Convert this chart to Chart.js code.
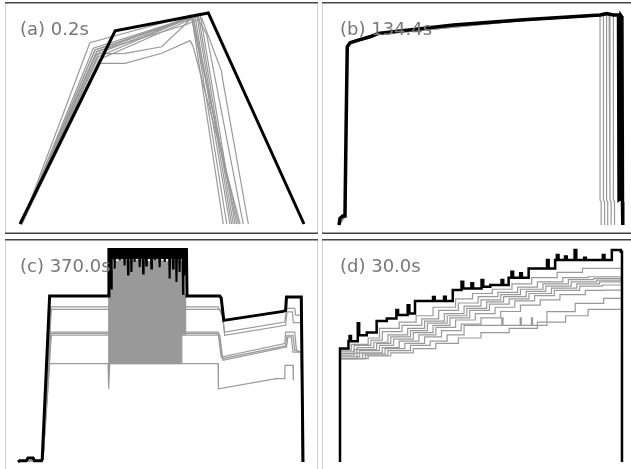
<!DOCTYPE html>
<html>
<head>
<meta charset="utf-8">
<script src="https://cdn.jsdelivr.net/npm/chart.js@4"></script>
<style>
html, body { margin: 0; padding: 0; background: #fff; overflow: hidden; width: 631px; height: 469px; }
canvas { position: absolute; }
</style>
</head>
<body>
<canvas id="pa" width="313" height="232" style="left:5px;top:2px"></canvas>
<canvas id="pb" width="309" height="232" style="left:322px;top:2px"></canvas>
<canvas id="pc" width="313" height="230" style="left:5px;top:239px"></canvas>
<canvas id="pd" width="309" height="230" style="left:322px;top:239px"></canvas>
<script>
// x = percent of run time, y = percent of peak value
var panelLabels = ["(a) 0.2s", "(b) 134.4s", "(c) 370.0s", "(d) 30.0s"];

// (a)
var aBlackX = [0, 33.5, 66.3, 100];
var aBlackY = [0, 91.6, 100, 0];
var aGrayX = [
  [0.6, 24.6, 60.4, 71.6],
  [0.6, 25.8, 61.0, 72.8],
  [0.6, 26.4, 61.6, 73.9],
  [0.6, 27.0, 62.2, 74.5],
  [0.6, 27.0, 62.8, 75.1],
  [0.6, 27.6, 63.4, 75.7],
  [0.6, 27.9, 61.0, 76.3],
  [0.6, 28.2, 37.0, 49.9, 59.9, 61.0, 77.5],
  [0.6, 27.6, 37.0, 49.9, 60.4, 76.9],
  [0.6, 27.0, 58.1, 64.0, 71.0, 71.4, 80.4],
  [0.6, 26.4, 62.2, 65.7, 78.6]
];
var aGrayY = [
  [0, 85.9, 99.1, 0],
  [0, 83.3, 98.3, 0],
  [0, 82.5, 98.6, 0],
  [0, 81.7, 99.5, 0],
  [0, 80.6, 99.1, 0],
  [0, 79.3, 99.8, 0],
  [0, 78.0, 97.5, 0],
  [0, 76.1, 76.1, 80.9, 86.9, 84.0, 0],
  [0, 80.6, 80.9, 84.0, 97.5, 0],
  [0, 81.7, 94.3, 97.5, 72.2, 68.2, 0],
  [0, 82.5, 98.3, 90, 0]
];

// (b)
var bBlackX = [0, 0.35, 1.3, 2.1, 2.5, 2.9, 3.9, 6.2, 10.9, 13.8, 40.3, 63.7, 91.9, 94.2, 96.6, 98.4, 98.6, 99.2, 99.3, 99.6, 99.8, 99.9];
var bBlackY = [0, 3.1, 4.2, 4.2, 46.4, 84.1, 86.0, 87.0, 88.8, 90.4, 94.3, 96.7, 99.1, 99.8, 99.1, 99.1, 12.0, 12.5, 98.6, 98.0, 11.0, 0];
var bGrayX = [
  [0, 2.0, 2.4, 2.8, 4.0, 13.8, 63.7, 91.6, 91.9, 91.9, 92.3, 92.3],
  [0, 2.0, 2.4, 2.8, 4.0, 13.8, 63.7, 92.8, 93.1, 93.1, 93.5, 93.5],
  [0, 2.0, 2.4, 2.8, 4.0, 13.8, 63.7, 93.9, 94.2, 94.2, 94.6, 94.6],
  [0, 2.0, 2.4, 2.8, 4.0, 13.8, 63.7, 95.1, 95.4, 95.4, 95.8, 95.8],
  [0, 2.0, 2.4, 2.8, 4.0, 13.8, 63.7, 96.3, 96.6, 96.6, 97.0, 97.0]
];
var bGrayY = [
  [0, 4.0, 46, 83.6, 85.6, 90.0, 96.4, 98.8, 98.5, 11.8, 11.0, 0],
  [0, 3.8, 45, 83.4, 85.5, 89.9, 96.3, 98.9, 98.6, 11.8, 11.0, 0],
  [0, 3.9, 46, 83.8, 85.7, 90.1, 96.5, 99.0, 98.7, 11.8, 11.0, 0],
  [0, 4.1, 47, 83.5, 85.4, 89.8, 96.4, 99.0, 98.8, 11.8, 11.0, 0],
  [0, 4.0, 46, 83.7, 85.6, 90.0, 96.5, 99.1, 98.9, 11.8, 11.0, 0]
];

// (c)
var cBlackX = [0, 0.6, 2.9, 3.5, 5.3, 5.8, 8.2, 8.5, 11.1, 31.6, 31.9, 59.1, 59.3, 70.8, 71.3, 72.2, 93.0, 93.9, 94.2, 99.4, 100];
var cBlackY = [0, 0.6, 0.6, 1.9, 1.9, 0.6, 0.6, 1.3, 77.9, 77.9, 99.8, 99.8, 77.9, 77.9, 77.0, 66.5, 70.7, 71.2, 77.5, 77.5, 0];
var cTopX = [31.9, 59.1];
var cTopHi = [99.8, 99.8];
var cTopLo = [95.5, 95.5];
var cSpikeX = [32.5, 32.7, 32.9, 33.7, 33.9, 34.1, 35.5, 35.7, 35.9, 37.2, 37.4, 37.6, 38.4, 38.6, 38.8,
  39.6, 39.8, 40.0, 40.7, 40.9, 41.1, 42.5, 42.7, 42.9, 43.7, 43.9, 44.1, 44.8, 45.0, 45.2,
  46.6, 46.8, 47.0, 47.8, 48.0, 48.2, 49.5, 49.7, 49.9, 51.3, 51.5, 51.7, 53.0, 53.2, 53.4,
  54.2, 54.4, 54.6, 55.4, 55.6, 55.8, 56.5, 56.7, 56.9, 57.7, 57.9, 58.1, 58.3, 58.5, 58.7];
var cSpikeY = [99, 81.4, 99, 99, 90.8, 99, 99, 94.7, 99, 99, 92.3, 99, 99, 88, 99,
  99, 89.2, 99, 99, 93.9, 99, 99, 91.5, 99, 99, 88.5, 99, 99, 92.3, 99,
  99, 90.8, 99, 99, 94.7, 99, 99, 91.5, 99, 99, 93.9, 99, 99, 86.1, 99,
  99, 90.8, 99, 99, 84.5, 99, 99, 89.2, 99, 99, 79, 99, 99, 87.6, 99];
var cBandX = [31.6, 34, 37, 40, 43, 46, 49, 52, 55, 57.3, 57.5, 59.1];
var cBandTop = [80, 94, 95, 94, 95, 94, 95, 94, 95, 94, 80, 78];
var cBandBottom = [46.2, 46.2, 46.2, 46.2, 46.2, 46.2, 46.2, 46.2, 46.2, 46.2, 60, 60];
var cGrayX = [
  [0, 8.2, 8.8, 11.5, 59.1, 70.2, 71.7, 72.5, 93.6, 94.2, 97.1, 97.4, 99.4, 99.8],
  [0, 8.2, 8.8, 11.7, 59.1, 70.8, 71.9, 72.5, 93.9, 94.4, 96.3, 96.6, 99.4, 99.8],
  [0, 8.2, 8.8, 11.3, 59.1, 70.2, 71.3, 93.6, 93.9, 97.1, 97.7, 99.4, 99.8],
  [0, 8.2, 8.8, 11.5, 59.1, 70.5, 71.7, 93.9, 94.4, 96.5, 97.1, 99.4, 99.8],
  [0, 8.2, 8.8, 11.7, 59.1, 70.8, 71.9, 94.2, 94.7, 95.9, 96.5, 99.4, 99.8],
  [0, 8.2, 8.8, 11.1, 31.6, 31.8, 32.2, 57.3, 70.2, 70.3, 90.6, 93.6, 93.7, 96.5, 96.6]
];
var cGrayY = [
  [0.6, 0.6, 1.5, 72.8, 72.8, 72.8, 68.9, 61.0, 65.7, 72.1, 72.1, 69.0, 69.0, 0],
  [0.6, 0.6, 1.5, 71.7, 71.7, 71.7, 67.5, 59.5, 64.2, 70.5, 70.5, 65.4, 65.4, 0],
  [0.6, 0.6, 1.5, 61.0, 61.0, 61.0, 49.3, 55.6, 61.0, 61.0, 52.4, 51.6, 0],
  [0.6, 0.6, 1.5, 60.3, 60.3, 60.3, 48.5, 54.5, 59.5, 59.5, 52.4, 51.6, 0],
  [0.6, 0.6, 1.5, 59.5, 59.5, 59.5, 47.7, 54.0, 58.7, 58.7, 51.6, 51.6, 0],
  [0.6, 0.6, 1.5, 46.2, 46.2, 34.4, 46.2, 46.2, 46.2, 34.4, 39.1, 39.1, 45.4, 45.4, 38.3]
];

// (d) stepped
var dBlackX = [0, 0, 3.0, 3.4, 3.9, 6.3, 6.8, 9.5, 13.0, 16.6, 20.0, 20.6, 24.0, 24.6, 26.6, 33.0, 33.6, 36.9, 37.5, 40.0,
  43.1, 43.7, 46.6, 47.2, 50.2, 50.8, 53.3, 57.3, 57.9, 59.8, 60.8, 61.4, 63.9, 64.5, 66.9, 73.4, 74.0, 76.3, 76.9, 77.5,
  79.8, 80.4, 83.2, 83.8, 86.6, 87.2, 93.2, 93.8, 96.4, 99.6, 100];
var dBlackY = [0, 53.5, 57.0, 59.5, 57.0, 65.4, 59.8, 61.1, 66.5, 67.7, 71.7, 69.3, 74.0, 70.1, 75.9, 77.8, 75.9, 78.0, 75.9, 81.1,
  85.0, 81.9, 84.3, 81.9, 85.8, 82.7, 83.5, 85.8, 83.5, 86.9, 89.8, 86.9, 89.0, 86.9, 91.3, 95.3, 91.3, 95.3, 97.6, 95.3,
  96.9, 95.3, 100, 95.3, 96.4, 95.3, 97.6, 95.3, 100, 99.2, 0];
var dGrayX = [
  [0, 0, 4, 10, 14, 21, 27, 33, 41, 47, 54, 61, 68, 77, 86, 100],
  [0, 0, 5, 11, 15, 22, 29, 35, 42, 49, 56, 63, 70, 79, 88, 100],
  [0, 0, 6, 12, 17, 24, 30, 37, 44, 50, 57, 64, 72, 81, 90, 100],
  [0, 0, 5, 13, 18, 25, 31, 38, 45, 52, 58, 66, 73, 82, 91, 100],
  [0, 0, 7, 14, 19, 26, 33, 39, 46, 53, 60, 67, 75, 84, 92, 100],
  [0, 0, 6, 15, 21, 28, 34, 41, 48, 55, 62, 69, 76, 85, 93, 100],
  [0, 0, 8, 16, 23, 30, 36, 43, 50, 57, 64, 71, 78, 87, 94, 100],
  [0, 0, 9, 17, 25, 32, 38, 44, 57.4, 57.8, 63.9, 64.3, 67.9, 68.3, 73.4, 83.4, 93.5, 100],
  [0, 0, 10, 18, 26, 34, 42, 50, 60, 70, 80, 88, 100]
];
var dGrayY = [
  [0, 52.8, 55.5, 58.5, 63, 66, 69, 73, 77, 79.5, 81.5, 84, 87, 89.5, 91.3, 91.3],
  [0, 52, 55, 57.5, 61.5, 64.5, 67.5, 71.5, 75, 78, 80, 82.5, 85, 87, 87.4, 87.4],
  [0, 51.2, 54, 56.5, 60, 63, 66.5, 70, 73.5, 76.5, 79, 81.5, 84, 86, 86.6, 86.6],
  [0, 50.4, 53, 56, 59, 62, 65.5, 69, 72.5, 75.5, 78, 80.5, 83, 85, 85.8, 85.8],
  [0, 49.6, 52.5, 55, 58, 61, 64.5, 68, 71.5, 74.5, 77, 79.5, 82, 84, 85, 85],
  [0, 48.8, 51.5, 54, 57, 60, 63.5, 67, 70, 73, 76, 78.5, 81, 83, 83.5, 83.5],
  [0, 48.8, 51, 53.5, 56, 59, 62, 65, 68, 71, 74, 76.5, 79, 81, 81.1, 81.1],
  [0, 48.8, 50.4, 52.5, 55, 57, 60, 64.5, 68, 64.5, 68, 64.5, 68, 64.5, 70.9, 74.8, 77.2, 77.2],
  [0, 48.8, 50, 51.5, 53.5, 56, 58.5, 61, 63, 66, 69, 72, 73.5]
];

function pts(xs, ys) {
  return xs.map(function (x, i) { return { x: x, y: ys[i] }; });
}

function blackLine(xs, ys, w, extra) {
  return Object.assign({ data: pts(xs, ys), borderColor: "#000", borderWidth: w, pointRadius: 0, order: 0 }, extra || {});
}

function grayLines(xss, yss, extra) {
  return xss.map(function (xs, i) {
    return Object.assign({ data: pts(xs, yss[i]), borderColor: "#999", borderWidth: 1.2, pointRadius: 0, order: 3 }, extra || {});
  });
}

var framePlugin = {
  id: "frame",
  afterDraw: function (chart, args, opts) {
    var ctx = chart.ctx, w = chart.width, h = chart.height;
    ctx.save();
    ctx.strokeStyle = "#d0d0d0";
    ctx.lineWidth = 1;
    ctx.beginPath();
    ctx.moveTo(0.5, 0); ctx.lineTo(0.5, h);
    if (opts.right) { ctx.moveTo(w - 0.5, 0); ctx.lineTo(w - 0.5, h); }
    ctx.stroke();
    ctx.strokeStyle = "#444";
    ctx.lineWidth = 1.5;
    ctx.beginPath();
    ctx.moveTo(0, 0.75); ctx.lineTo(w, 0.75);
    if (opts.bottom) { ctx.moveTo(0, h - 0.75); ctx.lineTo(w, h - 0.75); }
    ctx.stroke();
    ctx.font = '18px "DejaVu Sans"';
    ctx.fillStyle = "#777";
    ctx.textBaseline = "alphabetic";
    ctx.fillText(opts.label, opts.lx, 33);
    ctx.restore();
  }
};

function makePanel(id, datasets, xr, yr, frame) {
  new Chart(id, {
    type: "line",
    data: { datasets: datasets },
    options: {
      responsive: false,
      animation: false,
      events: [],
      layout: { padding: 0 },
      elements: { line: { tension: 0 } },
      scales: {
        x: { type: "linear", min: xr[0], max: xr[1], display: false },
        y: { type: "linear", min: yr[0], max: yr[1], display: false }
      },
      plugins: { legend: { display: false }, tooltip: { enabled: false }, frame: frame }
    },
    plugins: [framePlugin]
  });
}

makePanel("pa",
  [blackLine(aBlackX, aBlackY, 3)].concat(grayLines(aGrayX, aGrayY)),
  [-5.28, 104.93], [-4.74, 105.21],
  { label: panelLabels[0], lx: 15, right: true, bottom: true });

makePanel("pb",
  [blackLine(bBlackX, bBlackY, 3.5)].concat(grayLines(bGrayX, bGrayY)),
  [-5.99, 102.8], [-4.25, 105.2],
  { label: panelLabels[1], lx: 18, right: false, bottom: true });

makePanel("pc",
  [
    blackLine(cBlackX, cBlackY, 3),
    blackLine(cTopX, cTopHi, 1),
    blackLine(cTopX, cTopLo, 1, { fill: "-1", backgroundColor: "#000" }),
    blackLine(cSpikeX, cSpikeY, 2),
    { data: pts(cBandX, cBandTop), borderColor: "#999", borderWidth: 1, pointRadius: 0, order: 2 },
    { data: pts(cBandX, cBandBottom), borderColor: "#999", borderWidth: 1, pointRadius: 0, order: 2,
      fill: "-1", backgroundColor: "#999" }
  ].concat(grayLines(cGrayX, cGrayY)),
  [-4.56, 105.26], [-3.29, 104.7],
  { label: panelLabels[2], lx: 15, right: true, bottom: false });

makePanel("pd",
  [blackLine(dBlackX, dBlackY, 2.5, { stepped: true })].concat(grayLines(dGrayX, dGrayY, { stepped: true })),
  [-6.38, 103.2], [-3.3, 105.2],
  { label: panelLabels[3], lx: 18, right: false, bottom: false });
</script>
</body>
</html>
